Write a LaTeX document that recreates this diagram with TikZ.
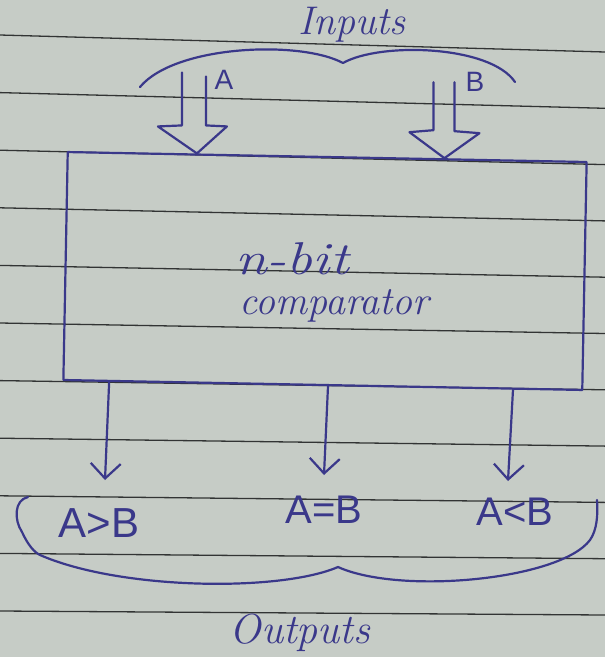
\documentclass[tikz,border=0pt]{standalone}
\usepackage{fontspec}
\usepackage{graphicx}
\setsansfont{Liberation Sans}
\usetikzlibrary{arrows.meta}
\definecolor{paper}{RGB}{198,204,198}
\definecolor{ink}{RGB}{58,56,138}
\definecolor{rulec}{RGB}{50,52,52}
\begin{document}
\begin{tikzpicture}[x=1pt,y=-1pt,line cap=round,line join=round,
  inkline/.style={draw=ink,line width=2.2pt},
  ruling/.style={draw=rulec,line width=1.3pt},
  word/.style={text=ink,font=\fontsize{40}{40}\selectfont\itshape,inner sep=0pt},
  rel/.style={text=ink,font=\sffamily\fontsize{40}{40}\selectfont,inner sep=0pt},
  inlabel/.style={text=ink,font=\sffamily\fontsize{28}{28}\selectfont,inner sep=0pt},
  outarrow/.style={inkline,-{Straight Barb[length=15pt,width=30pt,line width=2.2pt]}}]
\useasboundingbox (0,0) rectangle (605,657);
\fill[paper] (0,0) rectangle (605,657);
% ruled paper lines
\foreach \i in {0,...,10}
  \draw[ruling] (0,{35+57.6*\i}) -- (605,{52+56.3*\i});

% comparator box
\node[draw=ink,line width=2.2pt,minimum width=519pt,minimum height=228pt,
      inner sep=0pt,rotate=-1.1] (cmp) at (325,271) {};
\node[word,anchor=base west,font=\fontsize{46}{46}\selectfont\itshape] (nbit) at (235,274) {\scalebox{1.25}[1]{n-bit}};
\node[word,anchor=base west] (cmpword) at (239,314) {comparator};

% input arrows
\path (cmp.north west) -- (cmp.north east)
  coordinate[pos=0.25] (tipA) coordinate[pos=0.725] (tipB);
\draw[inkline] (tipA) -- ++(-39,-27) -- ++(24,-1) -- ++(0,-53);
\draw[inkline] (tipA) -- ++(30,-27) -- ++(-21,-1) -- ++(0,-49);
\draw[inkline] (tipB) -- ++(-35,-26) -- ++(24,-2) -- ++(0,-48);
\draw[inkline] (tipB) -- ++(35,-25) -- ++(-25,-2) -- ++(0,-49);
\node[inlabel,anchor=base] (la) at (224,89) {A};
\node[inlabel,anchor=base] (lb) at (475,91) {B};

% inputs brace
\coordinate (ibl) at (140,87);
\coordinate (ibm) at (343,63);
\coordinate (ibr) at (515,82);
\draw[inkline] (ibl) .. controls (175,45) and (300,40) .. (ibm)
  .. controls (380,42) and (490,45) .. (ibr);
\node[word,anchor=base] (inputs) at (352,34) {Inputs};

% outputs
\node[rel,anchor=base,font=\sffamily\fontsize{42}{42}\selectfont] (gt) at (99,537) {A>B};
\node[rel,anchor=base] (eq) at (324,523) {A=B};
\node[rel,anchor=base] (lt) at (515,525) {A<B};

\path (cmp.south west) -- (cmp.south east)
  coordinate[pos=0.09] (p1) coordinate[pos=0.51] (p2) coordinate[pos=0.865] (p3);
\coordinate (o1) at (105,480);
\coordinate (o2) at (324,475);
\coordinate (o3) at (508,481);
\draw[outarrow] (p1) -- (o1);
\draw[outarrow] (p2) -- (o2);
\draw[outarrow] (p3) -- (o3);

% outputs brace
\coordinate (obl) at (28,497);
\coordinate (obh) at (40,555);
\coordinate (obm) at (338,567);
\coordinate (obr) at (597,500);
\draw[inkline] (obl) .. controls (14,500) and (14,520) .. (22,532)
  .. controls (28,545) and (34,552) .. (obh)
  .. controls (120,590) and (280,592) .. (obm)
  .. controls (400,595) and (560,580) .. (590,540)
  .. controls (597,530) and (598,515) .. (obr);
\node[word,anchor=base,font=\fontsize{42}{42}\selectfont\itshape] (outputs) at (300,643) {Outputs};
\end{tikzpicture}
\end{document}
